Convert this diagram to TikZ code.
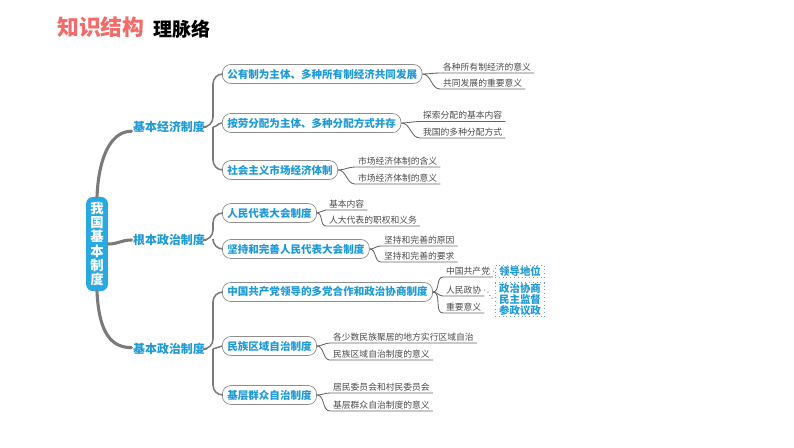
\documentclass[tikz,border=0pt]{standalone}
\usepackage{fontspec}
\setmainfont{Noto Sans CJK SC}
\usepackage{xcolor}
\usepackage{tikz}
\definecolor{mapblue}{HTML}{1E9AD6}
\definecolor{rootblue}{HTML}{29A9E1}
\definecolor{titlered}{HTML}{F26B6B}
\definecolor{branchgray}{HTML}{7A7A7A}
\definecolor{boxgray}{HTML}{8E8E8E}
\definecolor{leafink}{HTML}{4A4A4A}
\definecolor{dotblue}{HTML}{6F9FC4}

\tikzset{
  trunk/.style={draw=branchgray, line width=2.2pt, line cap=round},
  branch/.style={draw=branchgray, line width=1.1pt, rounded corners=7pt},
  twig/.style={draw=leafink!85, line width=0.6pt},
  hint/.style={draw=boxgray, dotted, line width=0.7pt},
  rootbox/.style={fill=rootblue, rounded corners=5pt, text=white, font=\fontsize{9.5}{10.2}\selectfont\bfseries, align=center, minimum width=15.6pt, minimum height=67pt, inner sep=1pt},
  topic/.style={font=\fontsize{8.5}{10}\selectfont\bfseries, text=mapblue, inner sep=1pt},
  subtopic/.style={draw=boxgray, line width=0.5pt, fill=white, rounded corners=6pt, font=\fontsize{7.5}{9}\selectfont\bfseries, text=mapblue, inner xsep=3.5pt, inner ysep=0pt, minimum height=13.5pt, anchor=west},
  leaf/.style={font=\fontsize{6.25}{7}\selectfont, text=leafink, inner xsep=2pt, inner ysep=1.2pt, anchor=south west},
  notebox/.style={draw=dotblue, dotted, line width=0.7pt, font=\fontsize{7.4}{7.8}\selectfont\bfseries, text=mapblue, align=center, inner xsep=1.5pt, inner ysep=0.6pt, minimum width=35.5pt},
}

\begin{document}
\begin{tikzpicture}[x=0.025cm, y=-0.025cm]
\useasboundingbox (0,0) rectangle (794,447);
% heading
\node[font=\fontsize{15.5}{16}\selectfont\bfseries, text=titlered, anchor=west, inner sep=0] (title) at (57,27) {知识结构};
\node[font=\fontsize{13.5}{14}\selectfont\bfseries, anchor=west, inner sep=0] (subtitle) at (153,29) {理脉络};
% centre and main topics
\node[rootbox] (root) at (97,244) {我\\国\\基\\本\\制\\度};
\node[topic] (eco) at (169,127) {基本经济制度};
\node[topic] (gov) at (169,240) {根本政治制度};
\node[topic] (pol) at (169,349) {基本政治制度};
\draw[trunk] (root.north) .. controls +(2,-45) and +(-18,0) .. ([yshift=-3pt]eco.west);
\draw[trunk] (root.east) .. controls +(10,0) and +(-10,0) .. (gov.west);
\draw[trunk] (root.south) .. controls +(2,45) and +(-18,0) .. ([yshift=1pt]pol.west);
% sub topics
\node[subtopic] (own)  at (222,74)  {公有制为主体、多种所有制经济共同发展};
\node[subtopic] (dist) at (222,123) {按劳分配为主体、多种分配方式并存};
\node[subtopic] (mkt)  at (222,170) {社会主义市场经济体制};
\node[subtopic] (npc)  at (222,213) {人民代表大会制度};
\node[subtopic] (upk)  at (222,249) {坚持和完善人民代表大会制度};
\node[subtopic] (cpc)  at (222,292) {中国共产党领导的多党合作和政治协商制度};
\node[subtopic] (eth)  at (222,346) {民族区域自治制度};
\node[subtopic] (grs)  at (222,395) {基层群众自治制度};
\coordinate (ecoj) at (213,127);
\coordinate (govj) at (213,240);
\coordinate (polj) at (213,349);
\draw[branch] (eco.east) -- (ecoj) |- (own.west);
\draw[branch] (ecoj) |- (mkt.west);
\draw[branch] (ecoj) to[out=0, in=180] (dist.west);
\draw[branch] (gov.east) -- (govj) |- (npc.west);
\draw[branch] (govj) |- (upk.west);
\draw[branch] (pol.east) -- (polj) |- (cpc.west);
\draw[branch] (polj) |- (grs.west);
\draw[branch] (polj) to[out=0, in=180] (eth.west);
% leaves
\foreach \n/\x/\y/\t in {owna/440/73/{各种所有制经济的意义}, ownb/440/89/{共同发展的重要意义},
    dista/420/121.5/{探索分配的基本内容}, distb/420/138/{我国的多种分配方式},
    mkta/355/167/{市场经济体制的含义}, mktb/355/184/{市场经济体制的意义},
    npca/326/210/{基本内容}, npcb/326/226/{人大代表的职权和义务},
    upka/381/246/{坚持和完善的原因}, upkb/381/262/{坚持和完善的要求},
    cpca/443/277/{中国共产党}, cpcb/443/296/{人民政协}, cpcc/443/313/{重要意义},
    etha/330/343/{各少数民族聚居的地方实行区域自治}, ethb/330/360/{民族区域自治制度的意义},
    grsa/330/393/{居民委员会和村民委员会}, grsb/330/411/{基层群众自治制度的意义}}
  \node[leaf] (\n) at (\x,\y) {\t};
\foreach \p/\c in {own/owna, own/ownb, dist/dista, dist/distb, mkt/mkta, mkt/mktb,
    npc/npca, npc/npcb, upk/upka, upk/upkb, cpc/cpca, cpc/cpcb, cpc/cpcc,
    eth/etha, eth/ethb, grs/grsa, grs/grsb}
  \draw[twig] (\p.east) to[out=0, in=180] (\c.south west) -- (\c.south east);
% notes on the party system
\node[notebox] (lead) at (520,271.5) {领导地位};
\node[notebox] (role) at (520,299.5) {政治协商\\民主监督\\参政议政};
\draw[hint] (cpca.east) -- (lead.west);
\draw[hint] (cpcb.east) to[out=0, in=180] (role.west);
\end{tikzpicture}
\end{document}
